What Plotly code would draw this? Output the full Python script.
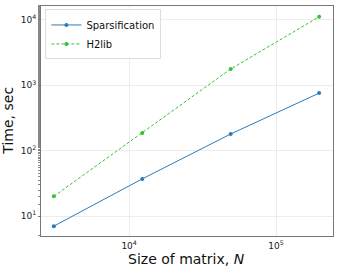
import plotly.graph_objects as go

N = [3072, 12288, 49152, 196608]
sparsification = [7.0, 37.0, 180.0, 760.0]
h2lib = [20.0, 187.0, 1780.0, 11200.0]

x_tickvals = [1e4, 1e5]
x_ticktext = ["10<sup>4</sup>", "10<sup>5</sup>"]
y_tickvals = [1e1, 1e2, 1e3, 1e4]
y_ticktext = ["10<sup>1</sup>", "10<sup>2</sup>", "10<sup>3</sup>", "10<sup>4</sup>"]

fig = go.Figure()
fig.add_trace(go.Scatter(x=N, y=sparsification, mode="lines+markers", name="Sparsification",
                         line=dict(color="#2b7bba", width=1), marker=dict(size=4, color="#2b7bba")))
fig.add_trace(go.Scatter(x=N, y=h2lib, mode="lines+markers", name="H2lib",
                         line=dict(color="#33c233", width=1, dash="3px,2px"), marker=dict(size=4, color="#33c233")))

axis_common = dict(showline=True, linecolor="#777777", linewidth=1, mirror=True,
                   showgrid=True, gridcolor="#ececec", gridwidth=1,
                   tickfont=dict(size=9, color="#222222", family="DejaVu Sans"),
                   zeroline=False, automargin=False)

fig.update_layout(
    width=340, height=272,
    margin=dict(l=41, r=7, t=6, b=36),
    paper_bgcolor="white", plot_bgcolor="white",
    font=dict(family="DejaVu Sans", color="#111111"),
    xaxis=dict(type="log", range=[3.40, 5.388], tickvals=x_tickvals, ticktext=x_ticktext,
               ticks="", ticklabelstandoff=1, **axis_common),
    yaxis=dict(type="log", range=[0.694, 4.214], tickvals=y_tickvals, ticktext=y_ticktext,
               ticks="outside", ticklen=2, tickcolor="#777777",
               minor=dict(ticks="outside", ticklen=2, tickcolor="#888888", showgrid=False),
               **axis_common),
    legend=dict(x=0.015, y=0.985, xanchor="left", yanchor="top", bgcolor="rgba(255,255,255,0.9)",
                bordercolor="#dddddd", borderwidth=1, font=dict(size=10), tracegroupgap=0,
                itemwidth=30),
    showlegend=True,
    annotations=[
        dict(text="Size of matrix, <i>N</i>", xref="paper", yref="paper", x=0.497, y=-0.058,
             xanchor="center", yanchor="top", showarrow=False, font=dict(size=14)),
        dict(text="Time, sec", xref="paper", yref="paper", x=-0.08, y=0.5, textangle=-90,
             xanchor="right", yanchor="middle", showarrow=False, font=dict(size=14)),
    ],
)

fig.write_html("out.html", config={"displayModeBar": False},
               post_script="document.body.style.margin='0';document.body.style.overflow='hidden';")
